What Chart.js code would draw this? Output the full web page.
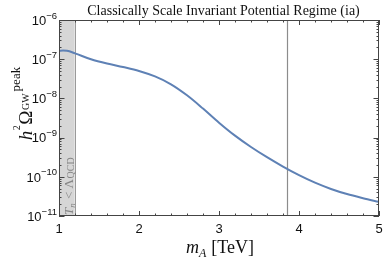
<!DOCTYPE html>
<html>
<head>
<meta charset="utf-8">
<script src="https://cdn.jsdelivr.net/npm/chart.js@4.4.0/dist/chart.umd.min.js"></script>
<style>
  html, body { margin: 0; padding: 0; background: #fff; }
</style>
</head>
<body>
<canvas id="gw-chart" width="383" height="259"></canvas>
<script>
// ---- data ----
const massTeV = [1.0, 1.05, 1.1, 1.2, 1.4, 1.6, 1.8, 2.0, 2.2, 2.4, 2.6, 2.8, 3.0, 3.2, 3.4, 3.6, 3.8, 4.0, 4.2, 4.4, 4.6, 4.8, 5.0];
const omegaPeak = [1.62e-7, 1.66e-7, 1.64e-7, 1.41e-7, 1.0e-7, 7.76e-8, 6.31e-8, 5.01e-8, 3.63e-8, 2.29e-8, 1.20e-8,
                   5.50e-9, 2.40e-9, 1.12e-9, 5.75e-10, 3.16e-10, 1.82e-10, 1.10e-10, 7.08e-11, 4.90e-11, 3.63e-11, 2.85e-11, 2.29e-11];
const xTicks = [1, 2, 3, 4, 5];
const yExponents = [-11, -10, -9, -8, -7, -6];
const qcdBand = [1.0, 1.196];    // T_n < Lambda_QCD region
const markerMass = 3.85;         // vertical reference line
const titleText = 'Classically Scale Invariant Potential Regime (ia)';

const SERIF = '"Liberation Serif", "DejaVu Serif", serif';
const SANS = '"Liberation Sans", Arial, sans-serif';

// text runs drawn one after another (sub/superscripts)
function runsWidth(ctx, runs) {
    let w = 0;
    for (const r of runs) {
        ctx.font = r.font;
        w += ctx.measureText(r.t).width + (r.gap || 0);
    }
    return w;
}
function drawRuns(ctx, runs, x, y) {
    for (const r of runs) {
        ctx.font = r.font;
        ctx.fillText(r.t, x, y + (r.dy || 0));
        x += ctx.measureText(r.t).width + (r.gap || 0);
    }
}

const decorations = {
    id: 'decorations',
    beforeDatasetsDraw(chart) {
        const { ctx, chartArea: a, scales: { x } } = chart;
        ctx.save();
        // shaded QCD band
        const x0 = x.getPixelForValue(qcdBand[0]);
        const x1 = x.getPixelForValue(qcdBand[1]);
        ctx.fillStyle = '#d6d6d6';
        ctx.fillRect(x0, a.top, x1 - x0, a.bottom - a.top);
        ctx.strokeStyle = '#9a9a9a';
        ctx.lineWidth = 1;
        ctx.beginPath();
        ctx.moveTo(Math.round(x1) + 0.5, a.top);
        ctx.lineTo(Math.round(x1) + 0.5, a.bottom);
        ctx.stroke();

        // band label, rotated
        ctx.translate(x0 + 14, a.bottom - 1);
        ctx.rotate(-Math.PI / 2);
        ctx.fillStyle = '#858585';
        ctx.textBaseline = 'alphabetic';
        drawRuns(ctx, [
            { t: 'T', font: 'italic 13px ' + SERIF },
            { t: 'n', font: 'italic 9px ' + SERIF, dy: 2, gap: 1 },
            { t: ' < ', font: '13px ' + SERIF },
            { t: 'Λ', font: '13px ' + SERIF, gap: 0.5 },
            { t: 'QCD', font: '10px ' + SERIF, dy: 0.5 }
        ], 0, 0);
        ctx.restore();

        // vertical marker
        ctx.save();
        const xm = Math.round(x.getPixelForValue(markerMass)) + 0.5;
        ctx.strokeStyle = '#8c8c8c';
        ctx.lineWidth = 1.2;
        ctx.beginPath();
        ctx.moveTo(xm, a.top);
        ctx.lineTo(xm, a.bottom);
        ctx.stroke();
        ctx.restore();
    },
    afterDatasetsDraw(chart) {
        const { ctx, chartArea: a, scales: { x, y } } = chart;
        ctx.save();
        ctx.strokeStyle = '#444';
        ctx.lineWidth = 1;
        ctx.strokeRect(Math.round(a.left) + 0.5, Math.round(a.top) + 0.5,
                       Math.round(a.right - a.left) - 1, Math.round(a.bottom - a.top) - 1);

        ctx.beginPath();
        // x ticks (major every 1, minor every 0.2), bottom and top
        for (let i = 0; i <= 20; i++) {
            const v = xTicks[0] + i * 0.2;
            const px = Math.round(x.getPixelForValue(v)) + 0.5;
            const len = i % 5 === 0 ? 5 : 2.5;
            ctx.moveTo(px, a.bottom); ctx.lineTo(px, a.bottom - len);
            ctx.moveTo(px, a.top); ctx.lineTo(px, a.top + len);
        }
        // y ticks on the log scale, left and right
        for (const e of yExponents) {
            for (let k = 1; k <= 9; k++) {
                if (e === yExponents[yExponents.length - 1] && k > 1) break;
                const py = Math.round(y.getPixelForValue(k * Math.pow(10, e))) + 0.5;
                const len = k === 1 ? 5.5 : 2.5;
                ctx.moveTo(a.left, py); ctx.lineTo(a.left + len, py);
                ctx.moveTo(a.right, py); ctx.lineTo(a.right - len, py);
            }
        }
        ctx.stroke();

        // y tick labels: 10 with raised exponent
        ctx.fillStyle = '#111';
        ctx.textBaseline = 'alphabetic';
        for (const e of yExponents) {
            const py = y.getPixelForValue(Math.pow(10, e));
            const exp = '−' + String(-e);
            ctx.font = '9.5px ' + SANS;
            const ew = ctx.measureText(exp).width;
            ctx.font = '13px ' + SANS;
            const bw = ctx.measureText('10').width;
            const right = a.left - 2;
            ctx.fillText('10', right - ew - bw, py + 4.8);
            ctx.font = '9.5px ' + SANS;
            ctx.fillText(exp, right - ew, py - 1.5);
        }
        ctx.restore();
    },
    afterDraw(chart) {
        const { ctx, chartArea: a } = chart;
        ctx.save();
        ctx.fillStyle = '#111';
        ctx.textBaseline = 'alphabetic';

        // title
        ctx.font = '14px ' + SERIF;
        ctx.textAlign = 'center';
        ctx.fillText(titleText, (a.left + a.right) / 2 + 4.5, 15);
        ctx.textAlign = 'left';

        // x axis title: m_A [TeV]
        const xRuns = [
            { t: 'm', font: 'italic 18px ' + SERIF },
            { t: 'A', font: 'italic 12px ' + SERIF, dy: 3.5, gap: 5 },
            { t: '[TeV]', font: '18px ' + SERIF }
        ];
        const xw = runsWidth(ctx, xRuns);
        drawRuns(ctx, xRuns, 220 - xw / 2, 253);

        // y axis title: h^2 Omega_GW^peak, rotated
        const yRuns = [
            { t: 'h', font: 'italic 19px ' + SERIF, gap: 0.5 },
            { t: '2', font: '10px ' + SERIF, dy: -12, gap: 0.5 },
            { t: 'Ω', font: '19px ' + SERIF, gap: 0.5 },
            { t: 'GW', font: '10px ' + SERIF, dy: -3, gap: 2 },
            { t: 'peak', font: '13px ' + SERIF, dy: -12.5 }
        ];
        const yw = runsWidth(ctx, yRuns);
        ctx.translate(32, 103.5);
        ctx.rotate(-Math.PI / 2);
        drawRuns(ctx, yRuns, -yw / 2, 0);
        ctx.restore();
    }
};

new Chart(document.getElementById('gw-chart'), {
    type: 'line',
    data: {
        datasets: [{
            data: massTeV.map((m, i) => ({ x: m, y: omegaPeak[i] })),
            borderColor: '#5e81b5',
            borderWidth: 2,
            pointRadius: 0,
            fill: false,
            cubicInterpolationMode: 'monotone'
        }]
    },
    options: {
        responsive: false,
        animation: false,
        layout: { padding: { left: 0, right: 4, top: 20, bottom: 0 } },
        plugins: { legend: { display: false }, tooltip: { enabled: false } },
        scales: {
            x: {
                type: 'linear',
                min: 1,
                max: 5,
                afterBuildTicks: s => { s.ticks = xTicks.map(v => ({ value: v })); },
                afterFit: s => { s.height = 43; s.paddingLeft = 0; s.paddingRight = 0; },
                grid: { display: false, drawTicks: false },
                border: { display: false },
                ticks: {
                    padding: 6,
                    maxRotation: 0,
                    autoSkip: false,
                    color: '#111',
                    font: { family: SANS, size: 13 },
                    callback: v => String(v)
                }
            },
            y: {
                type: 'logarithmic',
                min: 1e-11,
                max: 1e-6,
                afterFit: s => { s.width = 59; s.paddingTop = 0; s.paddingBottom = 0; },
                grid: { display: false, drawTicks: false },
                border: { display: false },
                ticks: { display: false }
            }
        }
    },
    plugins: [decorations]
});
</script>
</body>
</html>
